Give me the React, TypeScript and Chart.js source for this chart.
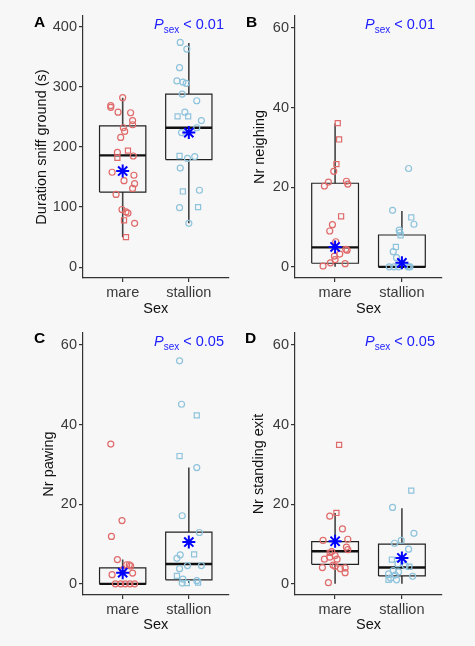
import React, { useEffect, useRef } from "react";
import { Chart, registerables } from "chart.js";

Chart.register(...registerables);

const FONT = "'Liberation Sans', Arial, Helvetica, sans-serif";

const sexes = ["mare", "stallion"];

// ---- A: duration sniff ground (s)
const sniffMareCircles = [282, 269, 266, 258, 257, 244, 237, 232, 226, 216, 191, 185, 158, 153, 144, 139, 131, 121, 96, 92, 90, 73];
const sniffMareCirclesJitter = [0, -0.18, -0.18, -0.07, 0.12, 0.15, 0.15, 0.01, 0.03, -0.03, -0.08, 0.16, -0.16, 0.17, 0.02, 0.18, 0.15, -0.1, -0.01, 0.05, 0.08, 0.18];
const sniffMareSquares = [194, 182, 78, 50];
const sniffMareSquaresJitter = [0.08, -0.08, 0.02, 0.05];
const sniffStallionCircles = [374, 363, 332, 310, 308, 306, 288, 277, 258, 244, 232, 224, 181, 184, 165, 128, 99, 73];
const sniffStallionCirclesJitter = [-0.13, -0.03, -0.14, -0.18, -0.09, -0.04, -0.1, 0.12, -0.06, 0.19, 0.12, -0.11, -0.02, 0.09, -0.13, 0.16, -0.14, 0];
const sniffStallionSquares = [251, 251, 185, 126, 100];
const sniffStallionSquaresJitter = [-0.17, -0.01, -0.14, -0.09, 0.14];
// [lower whisker, q1, median, q3, upper whisker]
const sniffBoxes = [
  [50, 125, 186, 235, 282],
  [73, 179, 232, 288, 373],
];
const sniffMeans = [160, 224];
const sniffTicks = [0, 100, 200, 300, 400];

// ---- B: number of neighing
const neighMareCircles = [24.0, 21.3, 20.3, 21.5, 20.8, 10.6, 9.0, 6.3, 4.4, 4.2, 3.2, 2.7, 1.8, 1.0, 0.8, 0.2];
const neighMareCirclesJitter = [-0.02, -0.1, -0.16, 0.17, 0.19, -0.04, -0.08, 0.01, 0.16, 0.18, 0.07, -0.01, 0, -0.07, 0.15, -0.18];
const neighMareSquares = [36.1, 32.0, 25.8, 12.7];
const neighMareSquaresJitter = [0.04, 0.06, 0.02, 0.09];
const neighStallionCircles = [24.7, 14.2, 10.7, 9.2, 8.6, 3.8, 2.3, 0, 0, 0, 0, 0];
const neighStallionCirclesJitter = [0.1, -0.14, 0.18, -0.04, -0.03, -0.13, -0.08, -0.19, -0.12, -0.05, 0.09, 0.12];
const neighStallionSquares = [12.4, 7.9, 5.0, 0];
const neighStallionSquaresJitter = [0.14, -0.02, -0.09, 0.11];
const neighBoxes = [
  [0, 0.9, 4.9, 21, 36],
  [0, 0, 0, 8, 14],
];
const neighMeans = [5.0, 1.0];

// ---- C: number of pawing
const pawMareCircles = [35.1, 15.9, 11.9, 6.1, 4.8, 4.8, 4.5, 3.5, 2.7, 2.3, 0, 0, 0, 0, 0];
const pawMareCirclesJitter = [-0.18, -0.01, -0.17, -0.08, 0.06, 0.1, 0.12, 0.0, 0.15, -0.16, -0.11, -0.03, 0.04, 0.11, 0.18];
const pawMareSquares: number[] = [];
const pawMareSquaresJitter: number[] = [];
const pawStallionCircles = [56.0, 45.1, 29.2, 17.1, 12.9, 7.3, 6.4, 4.6, 4.6, 3.8, 1.2, 0.8, 0.2];
const pawStallionCirclesJitter = [-0.14, -0.11, 0.12, -0.1, 0.16, -0.13, -0.18, -0.02, 0.19, -0.14, -0.09, 0.12, -0.1];
const pawStallionSquares = [42.3, 32.1, 7.4, 2.0, 0.3, 0.2];
const pawStallionSquaresJitter = [0.12, -0.14, 0.08, -0.18, 0.14, -0.03];
const pawBoxes = [
  [0, 0, 0, 4, 6.1],
  [0.2, 1, 5, 13, 29.2],
];
const pawMeans = [2.8, 10.5];

// ---- D: number of standing exit
const exitMareCircles = [17.0, 13.8, 11.2, 10.9, 9.2, 8.6, 8.1, 7.1, 6.7, 6.2, 6.2, 4.7, 4.4, 4.1, 4.0, 3.8, 2.8, 0.3];
const exitMareCirclesJitter = [-0.08, 0.11, 0.19, -0.18, 0.17, 0.19, -0.05, 0.0, -0.08, 0.03, -0.16, -0.03, 0.0, -0.19, 0.15, 0.08, 0.15, -0.1];
const exitMareSquares = [34.9, 17.8, 7.8];
const exitMareSquaresJitter = [0.06, 0.02, -0.08];
const exitStallionCircles = [19.2, 12.7, 10.9, 10.2, 8.7, 5.0, 4.6, 3.3, 3.0, 2.5, 2.2, 1.9, 1.5, 1.0];
const exitStallionCirclesJitter = [-0.14, 0.18, -0.01, -0.11, 0.1, -0.06, 0.05, -0.13, -0.05, -0.2, -0.1, 0.16, -0.17, -0.08];
const exitStallionSquares = [23.4, 6.1, 4.3, 1.0];
const exitStallionSquaresJitter = [0.14, -0.15, 0.11, -0.2];
const exitBoxes = [
  [0, 4.9, 8.2, 10.6, 17.8],
  [0, 2.0, 4.1, 10.0, 19.0],
];
const exitMeans = [10.7, 6.5];

const countTicks = [0, 20, 40, 60];

const COLORS = ["#e06a6a", "#8ec3dc"];

type Group = {
  circles: number[];
  circleJitter: number[];
  squares: number[];
  squareJitter: number[];
};

type PanelProps = {
  left: number;
  top: number;
  width: number;
  height: number;
  padTop: number;
  plotRight: number;
  axisLeft: number;
  titleX: number;
  xAxisHeight: number;
  yTitle: string;
  yMin: number;
  yMax: number;
  yTicks: number[];
  groups: Group[];
  boxes: number[][];
  means: number[];
};

const pts = (vals: number[], jit: number[], cx: number) =>
  vals.map((v, i) => ({ x: cx + jit[i], y: v }));

function buildDatasets(p: PanelProps) {
  const ds: any[] = [];
  const half = 0.35;
  p.groups.forEach((g, i) => {
    const cx = i + 1;
    const [lo, q1, med, q3, hi] = p.boxes[i];
    ds.push({
      data: [{ x: cx, y: p.means[i] }],
      pointStyle: "star",
      pointRadius: 6.5,
      borderColor: "#0000ff",
      borderWidth: 2,
      order: 0,
    });
    ds.push({
      data: pts(g.circles, g.circleJitter, cx),
      pointStyle: "circle",
      pointRadius: 3,
      backgroundColor: "rgba(0,0,0,0)",
      borderColor: COLORS[i],
      borderWidth: 1.2,
      order: 1,
    });
    ds.push({
      data: pts(g.squares, g.squareJitter, cx),
      pointStyle: "rect",
      pointRadius: 3.6,
      backgroundColor: "rgba(0,0,0,0)",
      borderColor: COLORS[i],
      borderWidth: 1.2,
      order: 1,
    });
    const line = (data: { x: number; y: number }[], color: string, w: number, order: number) => ({
      data,
      showLine: true,
      pointRadius: 0,
      borderColor: color,
      borderWidth: w,
      fill: false,
      order,
    });
    ds.push(line([{ x: cx - half, y: med }, { x: cx + half, y: med }], "#111", 2.4, 2));
    ds.push(
      line(
        [
          { x: cx - half, y: q1 },
          { x: cx + half, y: q1 },
          { x: cx + half, y: q3 },
          { x: cx - half, y: q3 },
          { x: cx - half, y: q1 },
        ],
        "#222",
        1.2,
        3
      )
    );
    ds.push(line([{ x: cx, y: q3 }, { x: cx, y: hi }], "#444", 1.6, 4));
    ds.push(line([{ x: cx, y: q1 }, { x: cx, y: lo }], "#444", 1.6, 4));
  });
  return ds;
}

const Panel: React.FC<PanelProps> = (p) => {
  const ref = useRef<HTMLCanvasElement | null>(null);

  useEffect(() => {
    if (!ref.current) return;
    const tickFont = { family: FONT, size: 14.5 };
    const axisCommon = {
      grid: { display: true, drawOnChartArea: false, drawTicks: true, tickLength: 4, color: "#333", lineWidth: 1.2 },
      border: { display: true, color: "#333", width: 1.2 },
    };
    const chart = new Chart(ref.current, {
      type: "scatter",
      data: { datasets: buildDatasets(p) },
      options: {
        animation: false,
        responsive: false,
        maintainAspectRatio: false,
        events: [],
        layout: { padding: { top: p.padTop, right: p.width - p.plotRight, left: 0, bottom: 0 } },
        plugins: { legend: { display: false }, tooltip: { enabled: false } },
        scales: {
          x: {
            type: "linear",
            min: 0.4,
            max: 2.6,
            ...axisCommon,
            afterBuildTicks: (s: any) => {
              s.ticks = sexes.map((_, i) => ({ value: i + 1 }));
            },
            afterFit: (s: any) => {
              s.height = p.xAxisHeight;
            },
            ticks: {
              autoSkip: false,
              maxRotation: 0,
              padding: 2,
              color: "#3a3a3a",
              font: tickFont,
              callback: (v: any) => sexes[Math.round(Number(v)) - 1],
            },
            title: { display: true, text: "Sex", color: "#111", font: tickFont, padding: { top: 0, bottom: 2.3 } },
          },
          y: {
            type: "linear",
            min: p.yMin,
            max: p.yMax,
            ...axisCommon,
            afterBuildTicks: (s: any) => {
              s.ticks = p.yTicks.map((v) => ({ value: v }));
            },
            afterFit: (s: any) => {
              s.width = p.axisLeft;
            },
            ticks: { padding: 2, color: "#3a3a3a", font: tickFont },
            title: {
              display: true,
              text: p.yTitle,
              color: "#111",
              font: tickFont,
              padding: { top: p.titleX - 8.7, bottom: 0 },
            },
          },
        },
      } as any,
    });
    return () => chart.destroy();
  }, []);

  return (
    <canvas
      ref={ref}
      width={p.width}
      height={p.height}
      style={{ position: "absolute", left: p.left, top: p.top, width: p.width, height: p.height }}
    />
  );
};

const groupsOf = (
  mc: number[], mcj: number[], ms: number[], msj: number[],
  sc: number[], scj: number[], ss: number[], ssj: number[]
): Group[] => [
  { circles: mc, circleJitter: mcj, squares: ms, squareJitter: msj },
  { circles: sc, circleJitter: scj, squares: ss, squareJitter: ssj },
];

const Label: React.FC<{ x: number; y: number; text: string }> = ({ x, y, text }) => (
  <div style={{ position: "absolute", left: x, top: y - 9, fontFamily: FONT, fontWeight: "bold", fontSize: 15.5, lineHeight: "18px", color: "#000" }}>
    {text}
  </div>
);

const PLabel: React.FC<{ x: number; y: number; p: string }> = ({ x, y, p }) => (
  <div style={{ position: "absolute", left: x, top: y - 9, fontFamily: FONT, fontSize: 14.5, lineHeight: "18px", color: "#2020ff", whiteSpace: "nowrap" }}>
    <i>P</i>
    <span style={{ fontSize: 10, position: "relative", top: 4 }}>sex</span> &lt; {p}
  </div>
);

export default function App() {
  return (
    <div style={{ position: "fixed", left: 0, top: 0, width: 475, height: 646, background: "#f7f7f7", overflow: "hidden" }}>
      <Panel
        left={0} top={0} width={237} height={320} padTop={16} plotRight={231} axisLeft={83} titleX={42} xAxisHeight={42}
        yTitle="Duration sniff ground (s)" yMin={-18} yMax={418} yTicks={sniffTicks}
        groups={groupsOf(sniffMareCircles, sniffMareCirclesJitter, sniffMareSquares, sniffMareSquaresJitter,
          sniffStallionCircles, sniffStallionCirclesJitter, sniffStallionSquares, sniffStallionSquaresJitter)}
        boxes={sniffBoxes} means={sniffMeans}
      />
      <Panel
        left={237} top={0} width={238} height={320} padTop={16} plotRight={205} axisLeft={58} titleX={23} xAxisHeight={42}
        yTitle="Nr neighing" yMin={-2.8} yMax={63} yTicks={countTicks}
        groups={groupsOf(neighMareCircles, neighMareCirclesJitter, neighMareSquares, neighMareSquaresJitter,
          neighStallionCircles, neighStallionCirclesJitter, neighStallionSquares, neighStallionSquaresJitter)}
        boxes={neighBoxes} means={neighMeans}
      />
      <Panel
        left={0} top={316} width={237} height={320} padTop={17} plotRight={231} axisLeft={83} titleX={49} xAxisHeight={41}
        yTitle="Nr pawing" yMin={-2.8} yMax={63} yTicks={countTicks}
        groups={groupsOf(pawMareCircles, pawMareCirclesJitter, pawMareSquares, pawMareSquaresJitter,
          pawStallionCircles, pawStallionCirclesJitter, pawStallionSquares, pawStallionSquaresJitter)}
        boxes={pawBoxes} means={pawMeans}
      />
      <Panel
        left={237} top={316} width={238} height={320} padTop={17} plotRight={205} axisLeft={58} titleX={22} xAxisHeight={41}
        yTitle="Nr standing exit" yMin={-2.8} yMax={63} yTicks={countTicks}
        groups={groupsOf(exitMareCircles, exitMareCirclesJitter, exitMareSquares, exitMareSquaresJitter,
          exitStallionCircles, exitStallionCirclesJitter, exitStallionSquares, exitStallionSquaresJitter)}
        boxes={exitBoxes} means={exitMeans}
      />
      <Label x={34} y={22} text="A" />
      <Label x={246} y={22} text="B" />
      <Label x={34} y={338} text="C" />
      <Label x={245} y={338} text="D" />
      <PLabel x={154} y={24} p="0.01" />
      <PLabel x={365} y={24} p="0.01" />
      <PLabel x={154} y={341} p="0.05" />
      <PLabel x={365} y={341} p="0.05" />
    </div>
  );
}
